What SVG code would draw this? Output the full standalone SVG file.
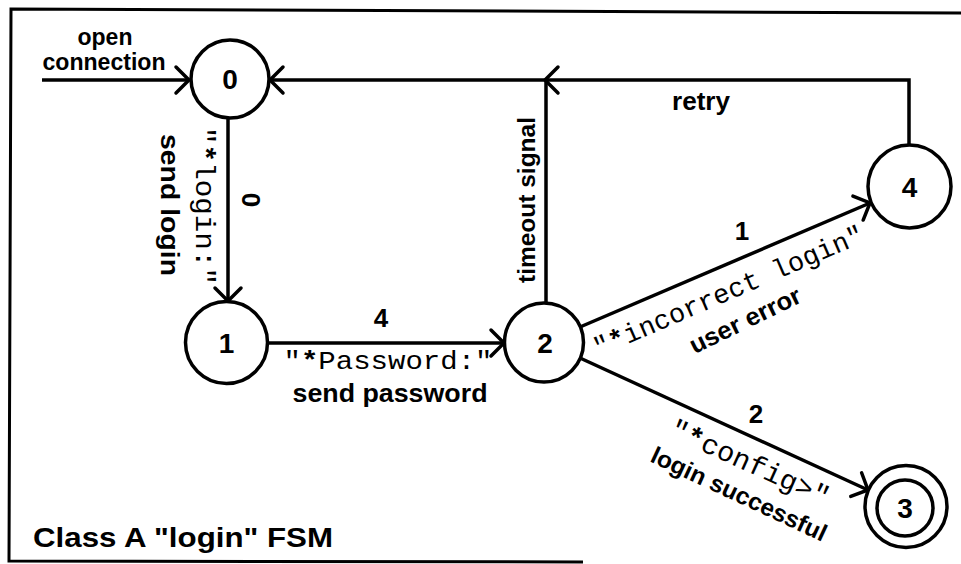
<svg xmlns="http://www.w3.org/2000/svg" width="961" height="564" viewBox="0 0 961 564">
<style>
.st{fill:#fff;stroke:#000;stroke-width:3.5}
.ln{fill:none;stroke:#000;stroke-width:3.5}
.s{font-family:"Liberation Sans",Arial,Helvetica,sans-serif;font-weight:bold;fill:#000}
.m{font-family:"Liberation Mono","Courier New",monospace;fill:#000}
.num{font-size:28px;text-anchor:middle}
.c{text-anchor:middle}
</style>
<defs>
<marker id="ah" viewBox="-16 -16 20 32" refX="0" refY="0" markerWidth="20" markerHeight="32" markerUnits="userSpaceOnUse" orient="auto">
<path d="M-13,-13 L0,0 L-13,13" fill="none" stroke="#000" stroke-width="3.5" stroke-linecap="round"/>
</marker>
</defs>
<rect width="961" height="564" fill="#fff"/>
<polyline points="961,13 11,9 9,561 583,562" fill="none" stroke="#000" stroke-width="3"/>

<g id="connectors">
<path class="ln" d="M42,80 H189" marker-end="url(#ah)"/>
<path class="ln" d="M909,146 V80 H270" marker-end="url(#ah)"/>
<path class="ln" d="M546,303 V80 H545" marker-end="url(#ah)"/>
<path class="ln" d="M228,118 V301" marker-end="url(#ah)"/>
<path class="ln" d="M267,343 H504" marker-end="url(#ah)"/>
<path class="ln" d="M580,327 L870,203" marker-end="url(#ah)"/>
<path class="ln" d="M580,358 L868,490" marker-end="url(#ah)"/>
</g>

<g id="edge-labels">
<text class="s c" x="105" y="45" font-size="23">open</text>
<text class="s c" x="104" y="70" font-size="23" textLength="123" lengthAdjust="spacingAndGlyphs">connection</text>
<text class="s c" x="701" y="110" font-size="26" textLength="58" lengthAdjust="spacingAndGlyphs">retry</text>
<text class="s c" transform="translate(535,200) rotate(-90)" font-size="23" textLength="166" lengthAdjust="spacingAndGlyphs">timeout signal</text>
<text class="s c" transform="translate(161,205) rotate(90)" font-size="25" textLength="142" lengthAdjust="spacingAndGlyphs">send login</text>
<text class="m c" transform="translate(196,206) rotate(90)" font-size="27" textLength="158" lengthAdjust="spacingAndGlyphs">"<tspan font-weight="bold">*</tspan>login:"</text>
<text class="s c" transform="translate(242,200) rotate(90)" font-size="26">0</text>
<text class="s c" x="381" y="327" font-size="26">4</text>
<text class="m c" x="388" y="369" font-size="26" textLength="209" lengthAdjust="spacingAndGlyphs">"<tspan font-weight="bold">*</tspan>Password:"</text>
<text class="s c" x="390" y="402" font-size="26" textLength="195" lengthAdjust="spacingAndGlyphs">send password</text>
<text class="s c" x="742" y="240" font-size="26">1</text>
<text class="m c" transform="translate(732,299) rotate(-23.4)" font-size="27" textLength="292" lengthAdjust="spacingAndGlyphs">"<tspan font-weight="bold">*</tspan>incorrect login"</text>
<text class="s c" transform="translate(746,322) rotate(-26)" y="6.5" font-size="25" textLength="121" lengthAdjust="spacingAndGlyphs">user error</text>
<text class="s c" x="756" y="423" font-size="26">2</text>
<text class="m c" transform="translate(746,471) rotate(24.4)" font-size="28" textLength="172" lengthAdjust="spacingAndGlyphs">"<tspan font-weight="bold">*</tspan>config&gt;"</text>
<text class="s c" transform="translate(738,496) rotate(25)" y="6" font-size="24" textLength="191" lengthAdjust="spacingAndGlyphs">login successful</text>
</g>

<g id="node0"><circle class="st" cx="230" cy="79" r="39"/><text class="s num" x="230" y="89">0</text></g>
<g id="node1"><circle class="st" cx="226.5" cy="342.5" r="41"/><text class="s num" x="226.5" y="352.5">1</text></g>
<g id="node2"><circle class="st" cx="544" cy="342.5" r="39.5"/><text class="s num" x="545" y="352.5">2</text></g>
<g id="node4"><circle class="st" cx="909.5" cy="186.5" r="41.5"/><text class="s num" x="909.5" y="196.5">4</text></g>
<g id="node3"><circle class="st" cx="906" cy="506.5" r="41"/><circle class="st" cx="905" cy="508" r="28"/><text class="s num" x="905" y="518">3</text></g>

<g id="title"><text class="s" x="33" y="547" font-size="28" textLength="300" lengthAdjust="spacingAndGlyphs">Class A "login" FSM</text></g>
</svg>
